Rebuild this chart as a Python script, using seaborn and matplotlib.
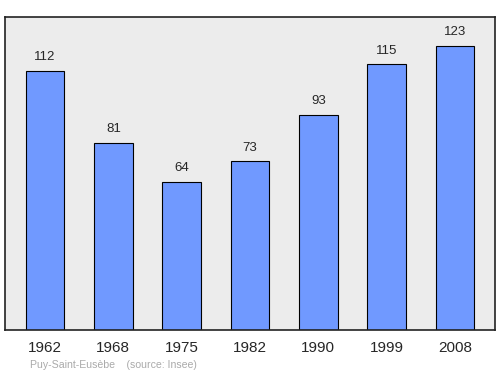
import matplotlib
matplotlib.use("Agg")
import matplotlib.pyplot as plt
import seaborn as sns
import pandas as pd

years = ["1962", "1968", "1975", "1982", "1990", "1999", "2008"]
population = [112, 81, 64, 73, 93, 115, 123]

sns.set_style("white")
plt.rcParams['font.family'] = ['Liberation Sans', 'DejaVu Sans']

df = pd.DataFrame({"year": years, "pop": population})

fig = plt.figure(figsize=(5, 3.74), dpi=100)
ax = fig.add_axes([0.01, 0.1176, 0.98, 0.837])
ax.set_facecolor("#ececec")
sns.barplot(data=df, x="year", y="pop", color="#7099ff", saturation=1,
            width=0.57, edgecolor="black", linewidth=0.8, ax=ax)
ax.set_xlim(-0.585, 6.585)
ax.set_ylim(0, 135.4)
ax.set_yticks([])
ax.set_xlabel("")
ax.set_ylabel("")
for s in ax.spines.values():
    s.set_color("#222222")
    s.set_linewidth(1.2)
ax.tick_params(axis="x", length=0, labelsize=11, pad=8)
for i, v in enumerate(population):
    ax.text(i, v + 3.3, str(v), ha="center", va="bottom", fontsize=9.5)
fig.text(0.06, 0.01, "Puy-Saint-Eusèbe    (source: Insee)", fontsize=7.6,
         color="#aaaaaa", ha="left", va="bottom")
fig.savefig("out.png", dpi=100)
